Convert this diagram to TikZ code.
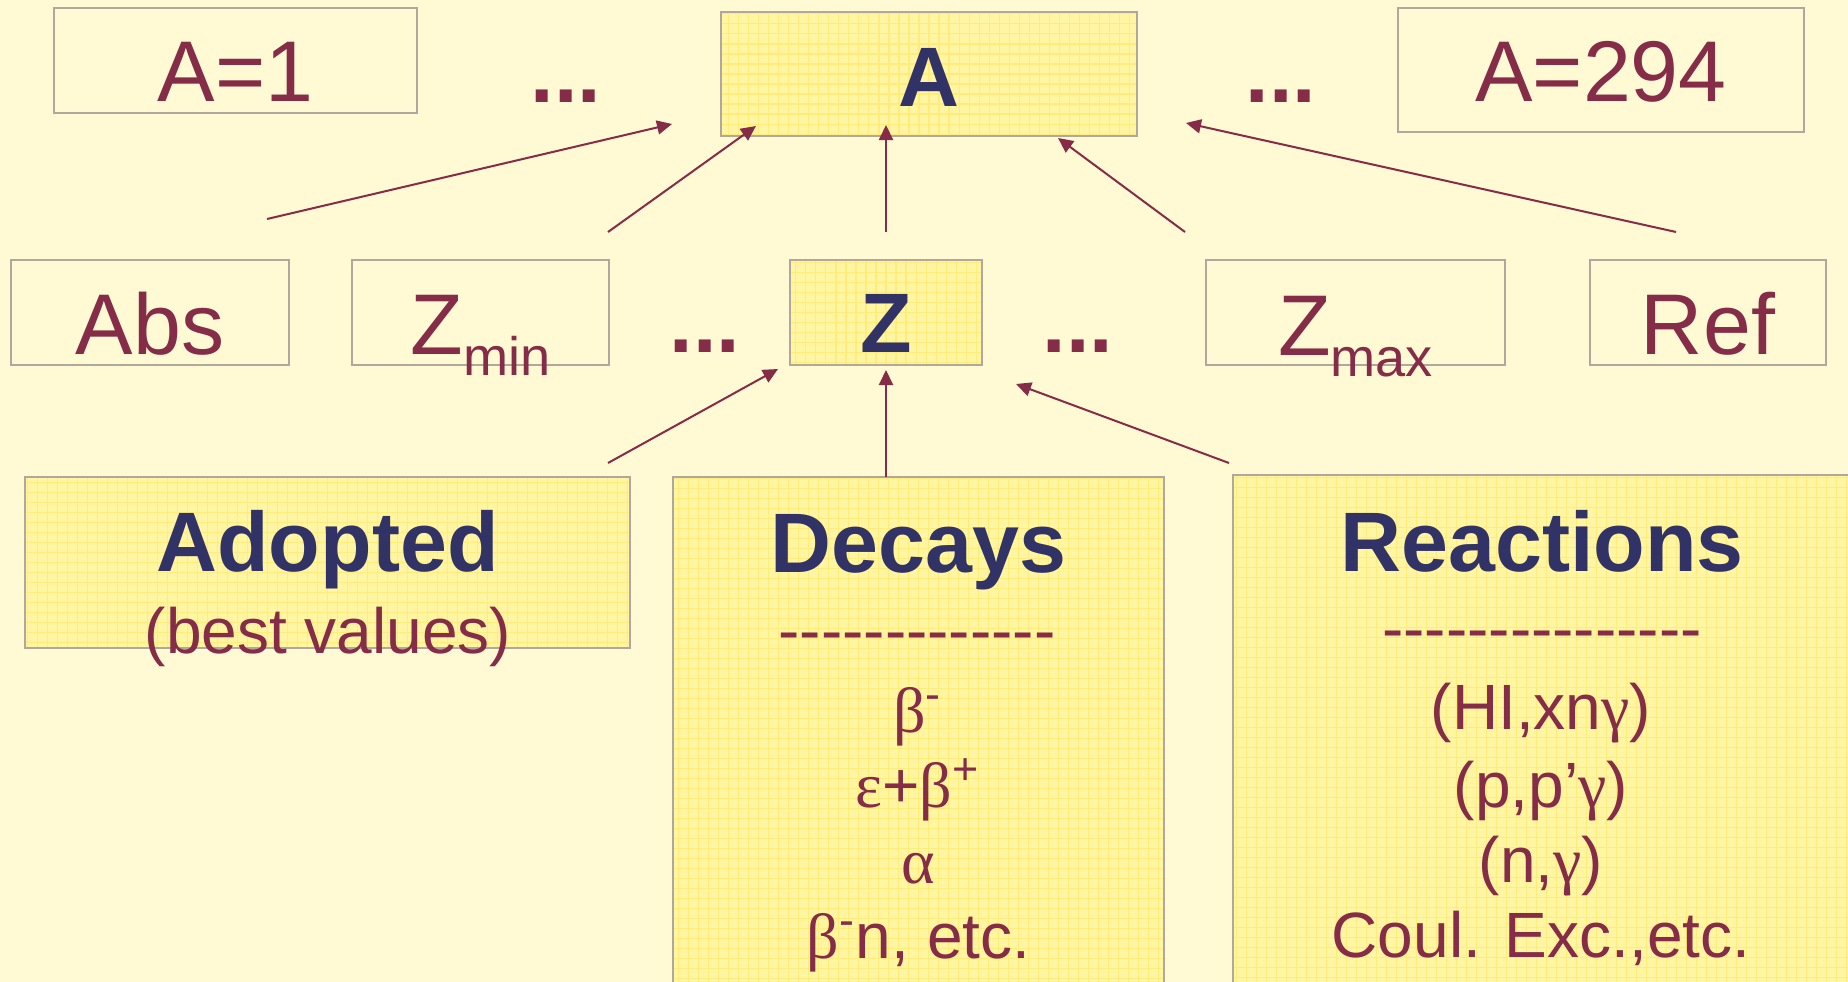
\documentclass[tikz,border=0pt]{standalone}
\usepackage{fontspec}
\setmainfont{Liberation Sans}
\newfontfamily\grk{Liberation Serif}
\usetikzlibrary{arrows.meta}
\definecolor{bgcol}{HTML}{FFFAD4}
\definecolor{boxcol}{HTML}{FFF5A3}
\definecolor{gridcol}{HTML}{FFEC7A}
\definecolor{bordcol}{HTML}{B0A89F}
\definecolor{tmaroon}{HTML}{842C48}
\definecolor{tblue}{HTML}{313366}
\newcommand{\lowsub}[1]{\raisebox{-0.21cm}{\fontsize{15.4pt}{18pt}\selectfont #1}}
\tikzset{
  plainbox/.style={draw=bordcol, line width=0.57pt, inner sep=0pt, outer sep=0pt},
  yelbox/.style={plainbox, fill=boxcol,
    path picture={\draw[gridcol, line width=0.3pt] (path picture bounding box.south west) grid[step=0.1cm] (path picture bounding box.north east);}},
  bigtxt/.style={text=tmaroon, font=\fontsize{24.5pt}{29pt}\selectfont, inner sep=0pt, anchor=base},
  ttltxt/.style={text=tblue, font=\bfseries\fontsize{24pt}{29pt}\selectfont, inner sep=0pt, anchor=base},
  bodytxt/.style={text=tmaroon, font=\fontsize{18.2pt}{22pt}\selectfont, inner sep=0pt, anchor=base},
  ellips/.style={text=tmaroon, font=\bfseries\fontsize{24pt}{29pt}\selectfont, inner sep=0pt, anchor=base},
  arr/.style={draw=tmaroon, line width=0.57pt, -{Triangle[length=0.15cm,width=0.14cm]}}
}
\begin{document}
\begin{tikzpicture}[x=0.01cm, y=-0.01cm]
\useasboundingbox (0,0) rectangle (1848,982);
\clip (0,0) rectangle (1848,982);
\fill[bgcol] (0,0) rectangle (1848,982);

% top row boxes
\node[plainbox, minimum width=3.63cm, minimum height=1.05cm] (boxA1) at (235.5,60.5) {};
\node[yelbox, minimum width=4.16cm, minimum height=1.24cm] (boxA) at (929,74) {};
\node[plainbox, minimum width=4.06cm, minimum height=1.24cm] (boxA294) at (1601,70) {};

% middle row boxes
\node[plainbox, minimum width=2.78cm, minimum height=1.05cm] (boxAbs) at (150,312.5) {};
\node[plainbox, minimum width=2.57cm, minimum height=1.05cm] (boxZmin) at (480.5,312.5) {};
\node[yelbox, minimum width=1.92cm, minimum height=1.05cm] (boxZ) at (886,312.5) {};
\node[plainbox, minimum width=2.99cm, minimum height=1.05cm] (boxZmax) at (1355.5,312.5) {};
\node[plainbox, minimum width=2.36cm, minimum height=1.05cm] (boxRef) at (1708,312.5) {};

% bottom row boxes
\node[yelbox, minimum width=6.05cm, minimum height=1.71cm] (boxAdopted) at (327.5,562.5) {};
\node[yelbox, minimum width=4.91cm, minimum height=5.23cm] (boxDecays) at (918.5,738.5) {};
\node[yelbox, minimum width=6.67cm, minimum height=5.25cm] (boxReactions) at (1566.5,737.5) {};

% arrow end points
\coordinate (s1) at (267,219);  \coordinate (t1) at (672,124);
\coordinate (s2) at (608,232);  \coordinate (t2) at (756,126);
\coordinate (s3) at (886,232);  \coordinate (t3) at (886,125);
\coordinate (s4) at (1185,232); \coordinate (t4) at (1058,138);
\coordinate (s5) at (1676,232); \coordinate (t5) at (1186,123);
\coordinate (s6) at (608,463);  \coordinate (t6) at (778,369);
\coordinate (s7) at (886,477);  \coordinate (t7) at (886,370);
\coordinate (s8) at (1229,463); \coordinate (t8) at (1016,384);
\draw[arr] (s1) -- (t1);
\draw[arr] (s2) -- (t2);
\draw[arr] (s3) -- (t3);
\draw[arr] (s4) -- (t4);
\draw[arr] (s5) -- (t5);
\draw[arr] (s6) -- (t6);
\draw[arr] (s7) -- (t7);
\draw[arr] (s8) -- (t8);

% texts top row
\node[bigtxt] (tA1) at (235.5,102) {A=1};
\node[ttltxt] (tA) at (929,107) {A};
\node[bigtxt] (tA294) at (1601,102) {A=294};
\node[ellips] (dots1) at (566,103) {...};
\node[ellips] (dots2) at (1281,103) {...};

% texts middle row
\node[bigtxt] (tAbs) at (150,354) {Abs};
\node[bigtxt] (tZmin) at (480.5,354) {Z\lowsub{min}};
\node[ttltxt] (tZ) at (886,353) {Z};
\node[bigtxt] (tZmax) at (1355.5,355) {Z\lowsub{max}};
\node[bigtxt] (tRef) at (1708,354) {Ref};
\node[ellips] (dots3) at (705,353) {...};
\node[ellips] (dots4) at (1078,353) {...};

% Adopted
\node[ttltxt] (tAdopted) at (327.5,571) {Adopted};
\node[bodytxt] (tBest) at (328,653) {(best values)};

% Decays
\node[ttltxt] (tDecays) at (918.5,572) {Decays};
\node[bodytxt] (dDash) at (917,652) {-{}-{}-{}-{}-{}-{}-{}-{}-{}-{}-{}-{}-};
\node[bodytxt] (d1) at (918,732) {{\grk β}\textsuperscript{-}};
\node[bodytxt] (d2) at (918,807) {{\grk ε}+{\grk β}\textsuperscript{+}};
\node[bodytxt] (d3) at (918,883) {{\grk α}};
\node[bodytxt] (d4) at (918.5,958) {{\grk β}\textsuperscript{-}n, etc.};

% Reactions
\node[ttltxt] (tReactions) at (1542,571) {Reactions};
\node[bodytxt] (rDash) at (1542,650) {-{}-{}-{}-{}-{}-{}-{}-{}-{}-{}-{}-{}-{}-{}-};
\node[bodytxt] (r1) at (1541,729) {(HI,xn{\grk γ})};
\node[bodytxt] (r2) at (1541,807) {(p,p’{\grk γ})};
\node[bodytxt] (r3) at (1541,882) {(n,{\grk γ})};
\node[bodytxt] (r4) at (1541,957) {Coul. Exc.,etc.};
\end{tikzpicture}
\end{document}
